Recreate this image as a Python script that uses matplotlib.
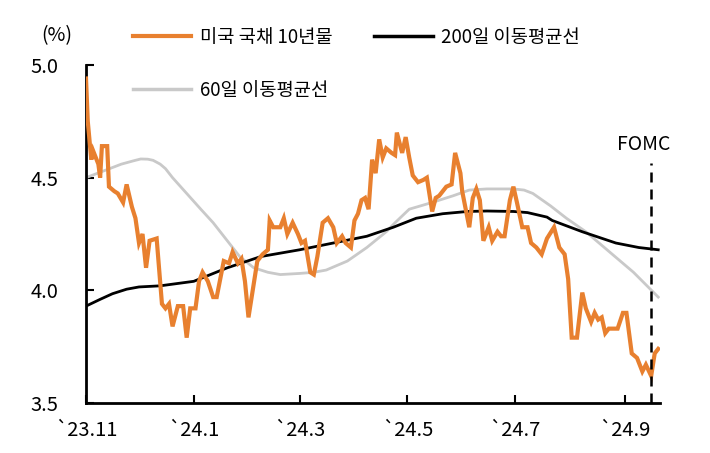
import matplotlib
matplotlib.use('Agg')
import matplotlib.pyplot as plt
import pandas as pd
from matplotlib import transforms

plt.rcParams['font.family'] = ['Noto Sans CJK KR', 'DejaVu Sans']

# ---- data ----
yield_dates = ['2023-11-01', '2023-11-02', '2023-11-04', '2023-11-05', '2023-11-08', '2023-11-09',
               '2023-11-10', '2023-11-13', '2023-11-14', '2023-11-17', '2023-11-19', '2023-11-22',
               '2023-11-24', '2023-11-27', '2023-11-29', '2023-12-01', '2023-12-03', '2023-12-05',
               '2023-12-07', '2023-12-11', '2023-12-14', '2023-12-16', '2023-12-18', '2023-12-20',
               '2023-12-23', '2023-12-26', '2023-12-28', '2023-12-30', '2024-01-02', '2024-01-04',
               '2024-01-06', '2024-01-09', '2024-01-12', '2024-01-14', '2024-01-18', '2024-01-21',
               '2024-01-23', '2024-01-26', '2024-01-28', '2024-01-30', '2024-02-01', '2024-02-04',
               '2024-02-06', '2024-02-09', '2024-02-12', '2024-02-13', '2024-02-15', '2024-02-19',
               '2024-02-21', '2024-02-23', '2024-02-26', '2024-02-29', '2024-03-02', '2024-03-04',
               '2024-03-07', '2024-03-09', '2024-03-11', '2024-03-14', '2024-03-17', '2024-03-20',
               '2024-03-22', '2024-03-25', '2024-03-27', '2024-03-30', '2024-04-01', '2024-04-03',
               '2024-04-05', '2024-04-07', '2024-04-09', '2024-04-11', '2024-04-13', '2024-04-15',
               '2024-04-17', '2024-04-19', '2024-04-22', '2024-04-24', '2024-04-25', '2024-04-28',
               '2024-04-30', '2024-05-02', '2024-05-04', '2024-05-07', '2024-05-10', '2024-05-12',
               '2024-05-14', '2024-05-15', '2024-05-17', '2024-05-19', '2024-05-21', '2024-05-23',
               '2024-05-26', '2024-05-28', '2024-05-31', '2024-06-01', '2024-06-04', '2024-06-05',
               '2024-06-07', '2024-06-09', '2024-06-11', '2024-06-13', '2024-06-16', '2024-06-18',
               '2024-06-21', '2024-06-23', '2024-06-25', '2024-06-28', '2024-06-30', '2024-07-02',
               '2024-07-05', '2024-07-08', '2024-07-10', '2024-07-13', '2024-07-16', '2024-07-19',
               '2024-07-23', '2024-07-26', '2024-07-29', '2024-07-31', '2024-08-02', '2024-08-05',
               '2024-08-08', '2024-08-10', '2024-08-13', '2024-08-15', '2024-08-17', '2024-08-19',
               '2024-08-21', '2024-08-23', '2024-08-28', '2024-08-31', '2024-09-02', '2024-09-05',
               '2024-09-08', '2024-09-11', '2024-09-13', '2024-09-16', '2024-09-18', '2024-09-20']
yield_values = [4.94, 4.75, 4.58, 4.62, 4.56, 4.50,
                4.64, 4.64, 4.46, 4.44, 4.43, 4.39,
                4.47, 4.37, 4.32, 4.21, 4.25, 4.10,
                4.22, 4.23, 3.94, 3.92, 3.94, 3.84,
                3.93, 3.93, 3.79, 3.92, 3.92, 4.04,
                4.08, 4.04, 3.97, 3.97, 4.13, 4.12,
                4.17, 4.12, 4.14, 4.04, 3.88, 4.03,
                4.13, 4.16, 4.18, 4.31, 4.28, 4.28,
                4.32, 4.25, 4.30, 4.25, 4.21, 4.22,
                4.08, 4.07, 4.15, 4.30, 4.32, 4.28,
                4.21, 4.24, 4.21, 4.19, 4.31, 4.34,
                4.40, 4.41, 4.36, 4.58, 4.52, 4.67,
                4.59, 4.63, 4.61, 4.60, 4.70, 4.61,
                4.68, 4.59, 4.51, 4.48, 4.49, 4.50,
                4.40, 4.35, 4.41, 4.42, 4.44, 4.46,
                4.47, 4.61, 4.52, 4.44, 4.32, 4.28,
                4.41, 4.45, 4.40, 4.22, 4.28, 4.22,
                4.26, 4.24, 4.24, 4.40, 4.46, 4.39,
                4.28, 4.28, 4.21, 4.19, 4.16, 4.23,
                4.28, 4.19, 4.16, 4.05, 3.79, 3.79,
                3.99, 3.92, 3.86, 3.90, 3.87, 3.88,
                3.81, 3.83, 3.83, 3.90, 3.90, 3.72,
                3.70, 3.64, 3.67, 3.62, 3.72, 3.74]

ma200_dates = ['2023-11-01', '2023-11-05', '2023-11-09', '2023-11-16', '2023-11-24', '2023-12-01',
               '2023-12-13', '2024-01-01', '2024-01-20', '2024-02-08', '2024-03-01', '2024-03-20',
               '2024-04-08', '2024-04-23', '2024-05-06', '2024-05-21', '2024-06-04', '2024-06-15',
               '2024-06-30', '2024-07-08', '2024-07-19', '2024-07-22', '2024-08-08', '2024-08-27',
               '2024-09-09', '2024-09-20']
ma200_values = [3.93, 3.945, 3.96, 3.985, 4.005, 4.015,
                4.02, 4.04, 4.10, 4.15, 4.18, 4.21,
                4.24, 4.28, 4.32, 4.34, 4.35, 4.352,
                4.35, 4.345, 4.325, 4.31, 4.26, 4.21,
                4.19, 4.18]

ma60_dates = ['2023-11-01', '2023-11-11', '2023-11-16', '2023-11-21', '2023-11-28', '2023-12-02',
              '2023-12-06', '2023-12-09', '2023-12-13', '2023-12-16', '2023-12-20', '2023-12-28',
              '2024-01-05', '2024-01-12', '2024-01-20', '2024-01-27', '2024-02-04', '2024-02-12',
              '2024-02-19', '2024-03-01', '2024-03-09', '2024-03-16', '2024-03-28', '2024-04-08',
              '2024-04-19', '2024-04-24', '2024-05-02', '2024-05-15', '2024-05-27', '2024-06-05',
              '2024-06-15', '2024-06-30', '2024-07-06', '2024-07-11', '2024-07-21', '2024-07-30',
              '2024-08-10', '2024-08-22', '2024-09-06', '2024-09-20']
ma60_values = [4.50, 4.53, 4.545, 4.56, 4.575, 4.583,
               4.582, 4.577, 4.56, 4.54, 4.50, 4.43,
               4.36, 4.30, 4.22, 4.15, 4.10, 4.08,
               4.07, 4.075, 4.08, 4.09, 4.13, 4.19,
               4.26, 4.30, 4.36, 4.39, 4.42, 4.445,
               4.45, 4.45, 4.445, 4.43, 4.375, 4.32,
               4.26, 4.18, 4.08, 3.97]

fomc_date = '2024-09-16'
x_start, x_end = '2023-11-01', '2024-09-21'
tick_dates = ['2023-11-01', '2024-01-01', '2024-03-01', '2024-05-01', '2024-07-01', '2024-09-01']
tick_labels = ['`23.11', '`24.1', '`24.3', '`24.5', '`24.7', '`24.9']
y_ticks = [3.5, 4.0, 4.5, 5.0]
y_tick_labels = ['3.5', '4.0', '4.5', '5.0']

label_yield = '미국 국채 10년물'
label_ma200 = '200일 이동평균선'
label_ma60 = '60일 이동평균선'

# ---- figure ----
W, H = 710, 453
fig = plt.figure(figsize=(W / 100, H / 100), dpi=100)
ax = fig.add_axes([86 / W, 1 - 403 / H, (660 - 86) / W, (403 - 65) / H])

orange = '#E8802F'
gray = '#C9C9C9'

l60, = ax.plot(pd.to_datetime(ma60_dates), ma60_values, color=gray, lw=2.0, label=label_ma60, zorder=2)
l200, = ax.plot(pd.to_datetime(ma200_dates), ma200_values, color='black', lw=2.0, label=label_ma200, zorder=3)
ly, = ax.plot(pd.to_datetime(yield_dates), yield_values, color=orange, lw=3.0, label=label_yield, zorder=4,
              solid_joinstyle='miter')

fd = pd.to_datetime(fomc_date)
ax.plot([fd, fd], [3.5, 4.565], color='black', lw=1.8, dashes=(4, 2.8), zorder=5, clip_on=False)
ax.text(fd, 4.60, 'FOMC', ha='center', va='bottom', fontsize=14,
        transform=ax.transData + transforms.ScaledTranslation(-7 / 100, 0, fig.dpi_scale_trans))

ax.set_xlim(pd.to_datetime(x_start), pd.to_datetime(x_end))
ax.set_ylim(3.5, 5.0)
ax.set_xticks(pd.to_datetime(tick_dates))
ax.set_xticklabels(tick_labels)
ax.set_yticks(y_ticks)
ax.set_yticklabels(y_tick_labels)

for s in ['top', 'right']:
    ax.spines[s].set_visible(False)
for s in ['left', 'bottom']:
    ax.spines[s].set_linewidth(2.0)
ax.tick_params(axis='both', direction='in', length=6, width=1.5, labelsize=14.5)
ax.tick_params(axis='y', pad=20)
ax.tick_params(axis='x', pad=12)

fig.text(57 / W, 1 - 36 / H, '(%)', ha='center', va='center', fontsize=14)

leg = fig.legend(handles=[ly, l60, l200], ncol=2, frameon=False,
                 loc='upper left', bbox_to_anchor=(133 / W, 1 - 27 / H),
                 fontsize=13.5, handlelength=3.1, handletextpad=0.45,
                 columnspacing=2.25, labelspacing=1.7, borderpad=0, borderaxespad=0)
for h in leg.legend_handles:
    h.set_linewidth(3.0 if h.get_color() == orange else 2.5)

fig.savefig('out.png', dpi=100)
